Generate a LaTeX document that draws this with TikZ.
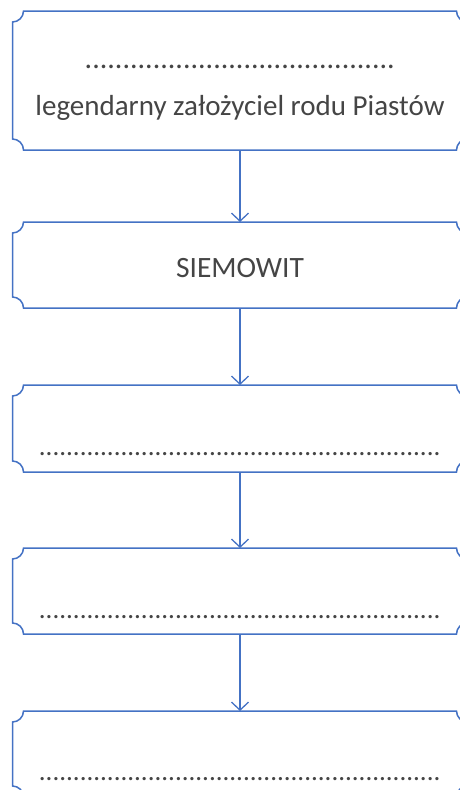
\documentclass[tikz,border=0pt]{standalone}
\usepackage{fontspec}
\setmainfont{Carlito}
\usetikzlibrary{positioning,arrows.meta}
\definecolor{frameblue}{HTML}{4472C4}
\definecolor{inkgray}{HTML}{454545}
\tikzset{
  plate/.style={shape=rectangle,draw=none,outer sep=0pt,minimum width=455pt},
  link/.style={frameblue,line width=2.25pt,-{Straight Barb[length=8pt,width=17pt,line width=1.3pt]}},
  txt/.style={inkgray,anchor=base,inner sep=0pt},
}
\newcommand*\notch{11pt}
\newcommand*\plaque[1]{\draw[frameblue,line width=1.5pt]
  ([yshift=-\notch]#1.north west) arc[start angle=270,end angle=360,radius=\notch]
  -- ([xshift=-\notch]#1.north east) arc[start angle=180,end angle=270,radius=\notch]
  -- ([yshift=\notch]#1.south east) arc[start angle=90,end angle=180,radius=\notch]
  -- ([xshift=\notch]#1.south west) arc[start angle=0,end angle=90,radius=\notch]
  -- cycle;}

\begin{document}
\begin{tikzpicture}[x=1pt,y=1pt]
\useasboundingbox (0,0) rectangle (459,-790);
% boxes
\node[plate,minimum height=139pt] (b1) at (240,-80.5) {};
\node[plate,minimum height=86pt,below=72pt of b1] (b2) {};
\node[plate,minimum height=87pt,below=77pt of b2] (b3) {};
\node[plate,minimum height=86pt,below=76pt of b3] (b4) {};
\node[plate,minimum height=86pt,below=77pt of b4] (b5) {};
%
\plaque{b1}
\plaque{b2}
\plaque{b3}
\plaque{b4}
\plaque{b5}
% arrows
\draw[link] (b1.south) -- (b2.north);
\draw[link] (b2.south) -- (b3.north);
\draw[link] (b3.south) -- (b4.north);
\draw[link] (b4.south) -- (b5.north);
% texts
\node[txt,font=\fontsize{30}{36}\selectfont] (d1) at (240,-68) {.........................................};
\node[txt,font=\fontsize{29}{35}\selectfont] (t1) at (240,-115) {legendarny założyciel rodu Piastów};
\node[txt,font=\fontsize{29.5}{35}\selectfont] (t2) at (240,-277) {SIEMOWIT};
\node[txt,font=\fontsize{27}{32}\selectfont] (d3) at (240,-455.5) {...........................................................};
\node[txt,font=\fontsize{27}{32}\selectfont] (d4) at (240,-618.5) {...........................................................};
\node[txt,font=\fontsize{27}{32}\selectfont] (d5) at (240,-780.5) {...........................................................};
\end{tikzpicture}
\end{document}
